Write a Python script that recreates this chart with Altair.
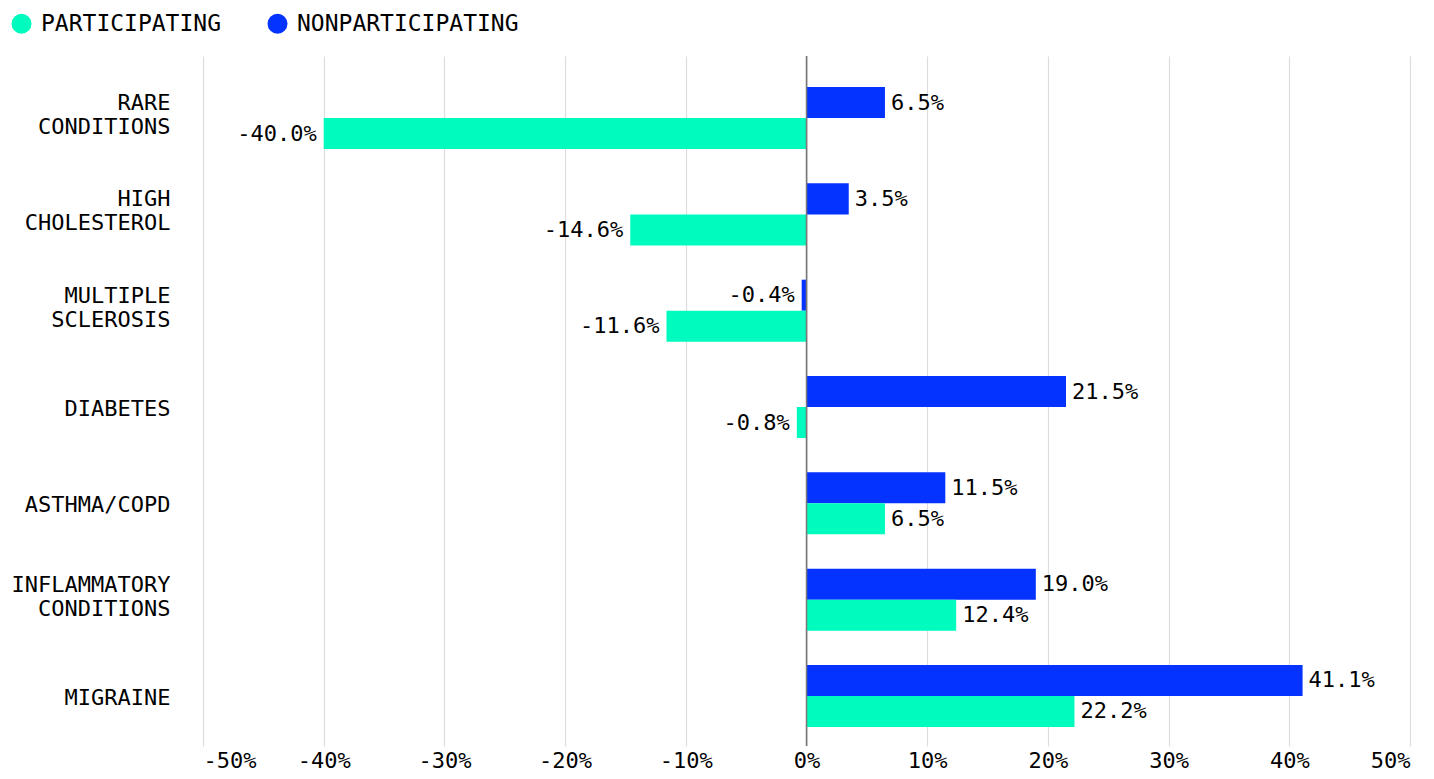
import altair as alt
import pandas as pd

categories = ["RARE CONDITIONS", "HIGH CHOLESTEROL", "MULTIPLE SCLEROSIS", "DIABETES",
              "ASTHMA/COPD", "INFLAMMATORY CONDITIONS", "MIGRAINE"]
participating = [-40.0, -14.6, -11.6, -0.8, 6.5, 12.4, 22.2]
nonparticipating = [6.5, 3.5, -0.4, 21.5, 11.5, 19.0, 41.1]
series = ["PARTICIPATING", "NONPARTICIPATING"]
colors = ["#00FBBF", "#0433FF"]
x_ticks = [-50, -40, -30, -20, -10, 0, 10, 20, 30, 40, 50]

rows = []
for c, p, n in zip(categories, participating, nonparticipating):
    rows.append({"category": c, "series": "NONPARTICIPATING", "value": n})
    rows.append({"category": c, "series": "PARTICIPATING", "value": p})
df = pd.DataFrame(rows)
df["label"] = df["value"].map(lambda v: f"{v:.1f}%")

FONT = "DejaVu Sans Mono"
FS = 22

y_enc = alt.Y("category:N", sort=categories,
              scale=alt.Scale(paddingInner=0.356, paddingOuter=0.26, align=0.62),
              axis=alt.Axis(title=None, labelExpr="split(datum.value, ' ')",
                            labelFont=FONT, labelFontSize=FS, labelColor="#000",
                            labelPadding=33, labelLineHeight=24, ticks=False,
                            labelOffset=alt.condition("indexof(datum.value, ' ') >= 0",
                                                      alt.value(-15), alt.value(2)),
                            domain=False, grid=False))
yoff = alt.YOffset("series:N", sort=["NONPARTICIPATING", "PARTICIPATING"],
                   scale=alt.Scale(paddingInner=0, paddingOuter=0))
x_enc = alt.X("value:Q", scale=alt.Scale(domain=[-50, 50], nice=False),
              axis=alt.Axis(title=None, values=x_ticks, labelExpr="datum.value + '%'",
                            labelFont=FONT, labelFontSize=FS, labelColor="#000",
                            labelPadding=4, ticks=False, domain=False,
                            grid=True, gridColor="#dddddd", gridWidth=1.2))

base = alt.Chart(df)

bars = base.mark_bar().encode(
    x=x_enc, y=y_enc, yOffset=yoff,
    color=alt.Color("series:N", scale=alt.Scale(domain=series, range=colors),
                    legend=alt.Legend(title=None, orient="none", direction="horizontal",
                                      legendX=-193, legendY=-44, symbolType="circle",
                                      symbolSize=400, symbolStrokeWidth=0,
                                      labelFont=FONT, labelFontSize=23, labelColor="#000",
                                      labelLimit=500, labelOffset=8, columnPadding=44,
                                      padding=0)),
)

pos_text = base.transform_filter("datum.value >= 0").mark_text(
    align="left", baseline="middle", dx=6, font=FONT, fontSize=FS, color="#000"
).encode(x="value:Q", y=alt.Y("category:N", sort=categories), yOffset=yoff, text="label:N")

neg_text = base.transform_filter("datum.value < 0").mark_text(
    align="right", baseline="middle", dx=-7, font=FONT, fontSize=FS, color="#000"
).encode(x="value:Q", y=alt.Y("category:N", sort=categories), yOffset=yoff, text="label:N")

zero = alt.Chart(pd.DataFrame({"z": [0]})).mark_rule(color="#777777", strokeWidth=1.5).encode(
    x="z:Q")

chart = alt.layer(bars, pos_text, neg_text, zero).properties(
    width=1207, height=690,
    autosize=alt.AutoSizeParams(type="none"),
    padding={"left": 195, "top": 48, "right": 10, "bottom": 30},
).configure_view(stroke=None)

chart.save("out.html", embed_options={"renderer": "svg", "actions": False})
